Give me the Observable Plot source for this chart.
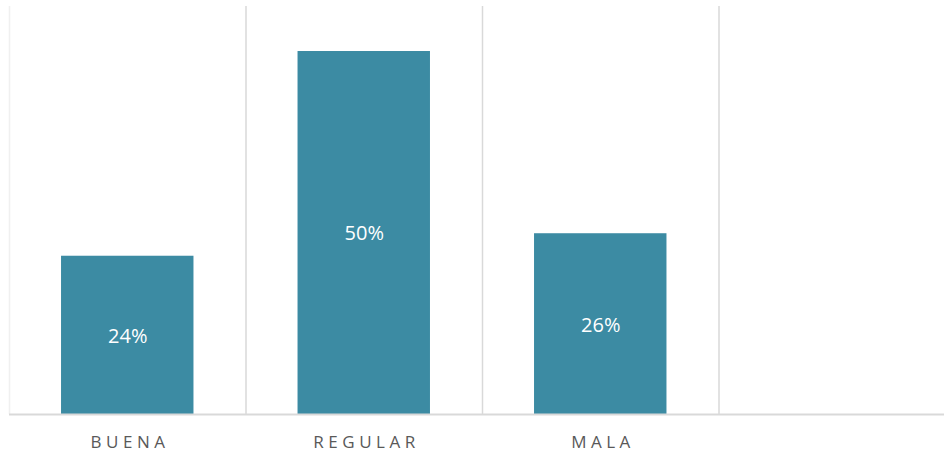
<!DOCTYPE html>
<html>
<head>
<meta charset="utf-8">
<script src="https://cdn.jsdelivr.net/npm/d3@7"></script>
<script src="https://cdn.jsdelivr.net/npm/@observablehq/plot@0.6"></script>
<style>
  html, body { margin: 0; padding: 0; background: #fff; overflow: hidden; }
  #chart { width: 944px; height: 452px; overflow: hidden; }
  #chart svg { display: block; }
</style>
</head>
<body>
<div id="chart"></div>
<script>
// Categories, bar heights (as drawn) and the data labels shown on the bars
const categories = ["BUENA", "REGULAR", "MALA"];
const values = [21.8, 50, 24.9];
const valueLabels = ["24%", "50%", "26%"];
const slots = 4;            // the chart has a fourth, empty category slot
const yMax = 56.2;

const data = categories.map((c, i) => ({i, category: c, value: values[i], label: valueLabels[i]}));
const boundaries = d3.range(slots);

const chart = Plot.plot({
  width: 944,
  height: 452,
  marginLeft: 9,
  marginRight: 0,
  marginTop: 6,
  marginBottom: 38,
  style: {fontFamily: "'Open Sans', sans-serif", background: "#fff"},
  x: {domain: [0, slots], range: [9, 955], axis: null},
  y: {domain: [0, yMax], axis: null},
  marks: [
    Plot.ruleX(boundaries, {x: d => d, y1: 0, y2: yMax, stroke: d => d === 0 ? "#f0f0f0" : "#d9d9d9", strokeWidth: 1.5}),
    Plot.rectY(data, {x1: d => d.i + 0.22, x2: d => d.i + 0.78, y1: 0, y2: "value", fill: "#3c8ba3"}),
    Plot.ruleY([0], {stroke: "#d9d9d9", strokeWidth: 2}),
    Plot.text(data, {x: d => d.i + 0.5, y: d => d.value / 2, dy: 1, text: "label", fill: "#ffffff", fontSize: 20}),
    Plot.text(data, {x: d => d.i + 0.5, y: 0, dy: 28, text: "category", fill: "#595959", fontSize: 17})
  ]
});
d3.select(chart).selectAll("text")
  .filter(function () { return categories.includes(this.textContent); })
  .style("letter-spacing", "4.5px")
  .attr("dx", 2.25);
document.getElementById("chart").appendChild(chart);
</script>
</body>
</html>
